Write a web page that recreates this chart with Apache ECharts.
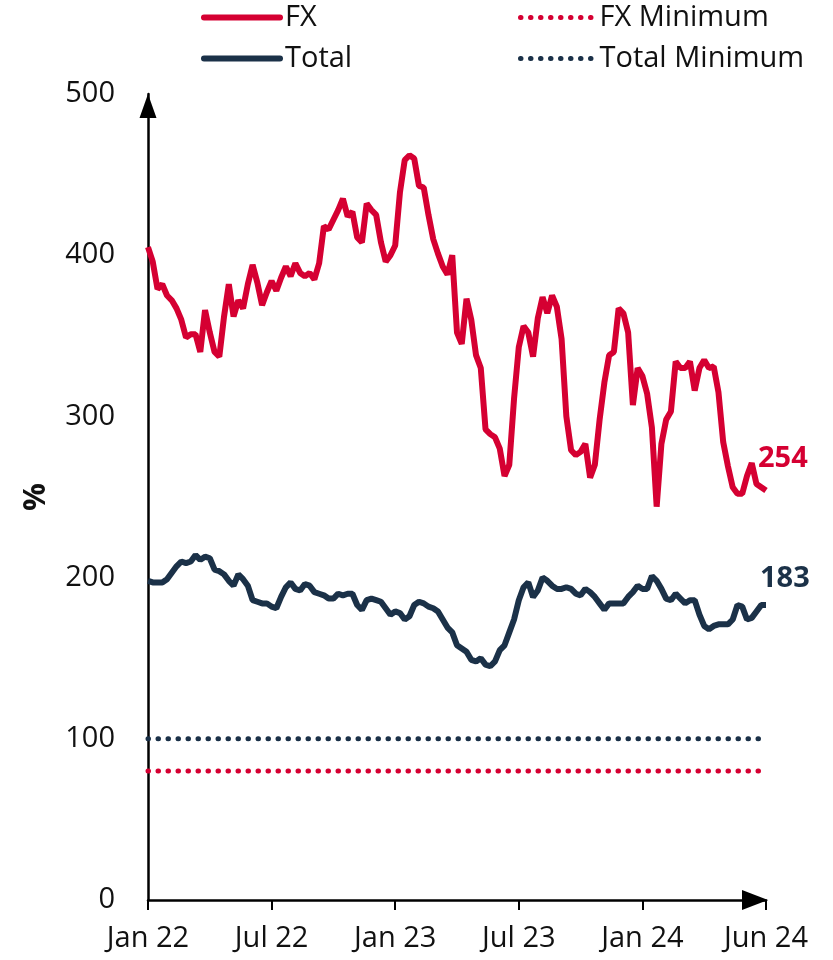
<!DOCTYPE html>
<html>
<head>
<meta charset="utf-8">
<script src="https://cdn.jsdelivr.net/npm/echarts@6/dist/echarts.min.js"></script>
<style>
    html, body { margin: 0; padding: 0; background: #fff; }
    #chart { width: 833px; height: 960px; }
</style>
</head>
<body>
<div id="chart"></div>
<script>
// x axis: weekly points, one tick label every 26 weeks
const tickLabels = ['Jan 22', 'Jul 22', 'Jan 23', 'Jul 23', 'Jan 24', 'Jun 24']
const weeksPerTick = 26

// weekly values, %
const fx = [
    405, 396, 379, 382, 375, 372, 367, 360, 349, 351,
    351, 340, 366, 352, 340, 337, 362, 382, 362, 372,
    367, 382, 394, 383, 369, 377, 384, 378, 386, 393,
    387, 395, 389, 387, 389, 385, 395, 418, 416, 422,
    428, 435, 424, 427, 411, 408, 432, 428, 425, 408,
    396, 400, 406, 439, 459, 462, 460, 443, 442, 425,
    410, 401, 393, 388, 400, 352, 345, 373, 360, 338,
    330, 292, 289, 287, 280, 263, 270, 311, 343, 356,
    352, 337, 361, 374, 364, 375, 368, 348, 300, 279,
    276, 278, 283, 262, 270, 298, 321, 338, 340, 367,
    364, 352, 307, 330, 325, 314, 293, 244, 283, 298,
    303, 334, 330, 330, 334, 316, 330, 335, 330, 331,
    315, 284, 269, 256, 252, 252, 263, 271, 258, 256,
    254
]
const total = [
    198, 197, 197, 197, 199, 203, 207, 210, 209, 210,
    214, 211, 213, 212, 205, 204, 202, 198, 195, 202,
    199, 195, 186, 185, 184, 184, 182, 181, 188, 194,
    197, 193, 192, 196, 195, 191, 190, 189, 187, 187,
    190, 189, 190, 190, 183, 180, 186, 187, 186, 185,
    181, 177, 179, 178, 174, 176, 183, 185, 184, 182,
    181, 179, 174, 169, 166, 158, 156, 154, 149, 148,
    150, 146, 145, 148, 155, 158, 166, 174, 186, 194,
    197, 188, 192, 200, 198, 195, 193, 193, 194, 193,
    190, 189, 193, 191, 188, 184, 180, 184, 184, 184,
    184, 188, 191, 195, 193, 193, 201, 198, 193, 187,
    186, 190, 187, 184, 186, 186, 177, 170, 168, 170,
    171, 171, 171, 174, 183, 182, 174, 175, 179, 183,
    183
]
const fxMinimum = 80
const totalMinimum = 100

const red = '#d50032'
const navy = '#1b3148'
const font = 'Open Sans'
const fs = 29
const lastIdx = fx.length - 1

const chart = echarts.init(document.getElementById('chart'))

const legendText = { fontSize: fs, color: '#111', fontFamily: font }

const option = {
    animation: false,
    grid: { left: 148, right: 67, top: 94, bottom: 60 },
    legend: [
        {
            left: 196, top: -2, orient: 'vertical',
            itemWidth: 76, itemHeight: 14, itemGap: 12,
            data: ['FX', 'Total'],
            itemStyle: { opacity: 0 },
            lineStyle: { width: 6, cap: 'round' },
            textStyle: legendText
        },
        {
            left: 513, top: -2, orient: 'vertical',
            itemWidth: 74, itemHeight: 14, itemGap: 12,
            data: ['FX Minimum', 'Total Minimum'],
            itemStyle: { opacity: 0 },
            lineStyle: { width: 5, cap: 'round' },
            textStyle: legendText
        }
    ],
    xAxis: {
        type: 'value',
        min: 0,
        max: lastIdx,
        interval: weeksPerTick,
        splitLine: { show: false },
        axisLine: {
            lineStyle: { color: '#000', width: 2.5 },
            symbol: ['none', 'triangle'],
            symbolSize: [20, 26],
            symbolOffset: [0, -11]
        },
        axisTick: { show: true, length: 10, lineStyle: { color: '#000', width: 2 } },
        axisLabel: {
            margin: 24,
            fontSize: fs,
            color: '#111',
            fontFamily: font,
            formatter: v => tickLabels[Math.round(v / weeksPerTick)] || ''
        }
    },
    yAxis: {
        type: 'value',
        min: 0,
        max: 500,
        interval: 100,
        name: '%',
        nameLocation: 'middle',
        nameGap: 96,
        nameRotate: 90,
        nameTextStyle: { fontSize: 31, fontWeight: 'bold', color: '#111', fontFamily: font },
        splitLine: { show: false },
        axisLine: {
            show: true,
            lineStyle: { color: '#000', width: 2.5 },
            symbol: ['none', 'triangle'],
            symbolSize: [17, 24],
            symbolOffset: [0, -12]
        },
        axisTick: { show: false },
        axisLabel: { margin: 33, fontSize: fs, color: '#111', fontFamily: font }
    },
    series: [
        {
            name: 'FX',
            type: 'line',
            data: fx.map((v, i) => [i, v]),
            showSymbol: false,
            symbol: 'none',
            color: red,
            lineStyle: { width: 6, color: red },
            endLabel: {
                show: true,
                formatter: p => p.value[1],
                color: red,
                fontSize: fs,
                fontWeight: 'bold',
                fontFamily: font,
                offset: [-16, -32]
            },
            z: 4
        },
        {
            name: 'Total',
            type: 'line',
            data: total.map((v, i) => [i, v]),
            showSymbol: false,
            symbol: 'none',
            color: navy,
            lineStyle: { width: 6, color: navy },
            endLabel: {
                show: true,
                formatter: p => p.value[1],
                color: navy,
                fontSize: fs,
                fontWeight: 'bold',
                fontFamily: font,
                offset: [-14, -26]
            },
            z: 4
        },
        {
            name: 'FX Minimum',
            type: 'line',
            data: [[0, fxMinimum], [lastIdx, fxMinimum]],
            showSymbol: false,
            symbol: 'none',
            color: red,
            lineStyle: { width: 5, color: red, type: [0.5, 9.5], cap: 'round' }
        },
        {
            name: 'Total Minimum',
            type: 'line',
            data: [[0, totalMinimum], [lastIdx, totalMinimum]],
            showSymbol: false,
            symbol: 'none',
            color: navy,
            lineStyle: { width: 5, color: navy, type: [0.5, 9.5], cap: 'round' }
        }
    ]
}

chart.setOption(option)
</script>
</body>
</html>
